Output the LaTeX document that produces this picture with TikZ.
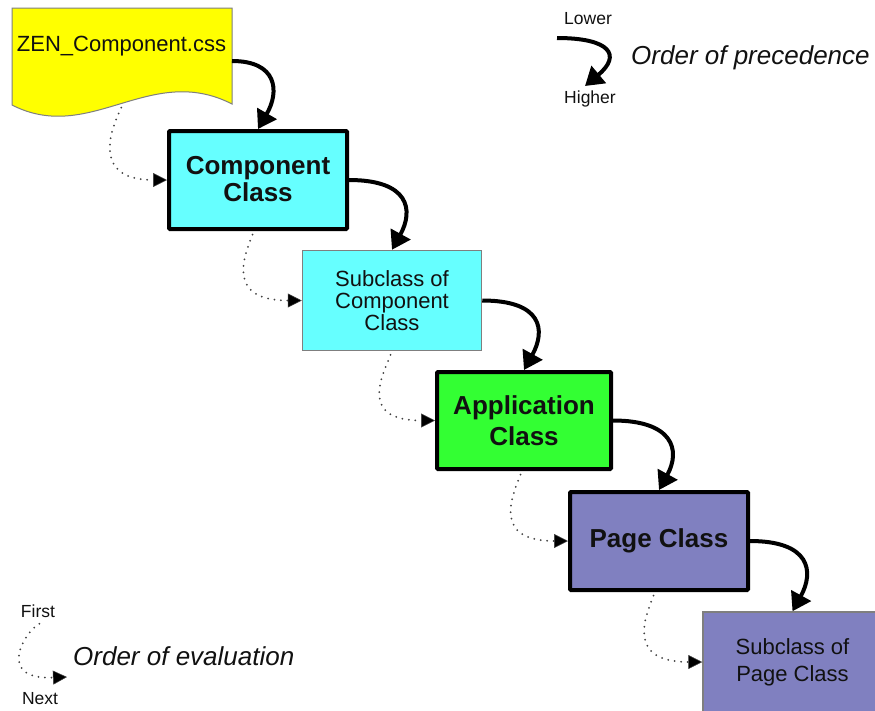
\documentclass[tikz,border=0pt]{standalone}
\usepackage{fontspec}
\setmainfont{Liberation Sans}
\usetikzlibrary{arrows.meta}
\definecolor{zenyellow}{HTML}{FFFF00}
\definecolor{compcyan}{HTML}{66FFFF}
\definecolor{appgreen}{HTML}{33FF33}
\definecolor{pagepurple}{HTML}{8080C0}
\definecolor{thinborder}{HTML}{7F7F7F}
\definecolor{inkcol}{HTML}{111111}
\begin{document}
\begin{tikzpicture}[x=1pt,y=-1pt,
  boldbox/.style={draw=black, line width=4pt, rounded corners=1pt, align=center,
    font=\fontsize{26}{27}\selectfont\bfseries, inner sep=0pt, text=inkcol},
  thinbox/.style={draw=thinborder, line width=1.5pt, align=center,
    font=\fontsize{22}{22}\selectfont, inner sep=0pt, text=inkcol},
  smalltext/.style={font=\fontsize{17.5}{18}\selectfont, inner sep=0pt, text=inkcol},
  legendtext/.style={anchor=west, font=\fontsize{26}{26}\selectfont\itshape, inner sep=0pt, text=inkcol},
  precarrow/.style={line width=4pt, draw=black, -{Triangle[length=18pt,width=22pt]}},
  evalarrow/.style={line width=2pt, draw=inkcol!80, dash pattern=on 0pt off 6.5pt, line cap=round,
    -{Triangle[length=14pt,width=14pt,fill=black,line width=0.5pt]}, shorten <=4pt}
]
\useasboundingbox (0,0) rectangle (875,710);
\fill[white] (0,0) rectangle (875,710);

% document shape
\path[draw=thinborder, line width=1pt, fill=zenyellow]
  (12,8) -- (232,8) -- (232,104) .. controls (150,62) and (90,145) .. (12,105) -- cycle;
\node[font=\fontsize{22}{22}\selectfont, inner sep=0pt, text=inkcol] (zen) at (121.5,46) {ZEN\_Component.css};
\coordinate (zenR) at (232,61);
\coordinate (zenB) at (123,104);

% boxes
\node[boldbox, fill=compcyan, minimum width=178pt, minimum height=98pt] (comp) at (258,180) {\raisebox{2pt}{Component}\\\raisebox{2pt}{Class}};
\node[thinbox, fill=compcyan, minimum width=179pt, minimum height=100pt] (sub1) at (392,300.5) {Subclass of\\Component\\Class};
\node[boldbox, fill=appgreen, minimum width=174pt, minimum height=97pt,
  font=\fontsize{26}{31}\selectfont\bfseries] (app) at (524,420.5) {Application\\Class};
\node[boldbox, fill=pagepurple, minimum width=178pt, minimum height=98pt] (page) at (659,541) {Page Class};
\node[thinbox, fill=pagepurple, minimum width=179pt, minimum height=100pt,
  font=\fontsize{22}{27}\selectfont] (sub2) at (792.5,662) {Subclass of\\Page Class};

% precedence arrows
\draw[precarrow] (zenR) .. controls +(45,0) and +(22,-38) .. (comp.north);
\draw[precarrow] (comp.east) .. controls +(60,0) and +(22,-40) .. (sub1.north);
\draw[precarrow] (sub1.east) .. controls +(60,0) and +(22,-40) .. (app.north);
\draw[precarrow] (app.east) .. controls +(60,0) and +(22,-40) .. (page.north);
\draw[precarrow] (page.east) .. controls +(60,0) and +(22,-40) .. (sub2.north);

% evaluation arrows
\draw[evalarrow] (zenB) .. controls +(-12,25) and +(-76,0) .. (comp.west);
\draw[evalarrow] ([xshift=-4pt]comp.south) .. controls +(-10,25) and +(-76,0) .. (sub1.west);
\draw[evalarrow] (sub1.south) .. controls +(-10,25) and +(-76,0) .. (app.west);
\draw[evalarrow] ([xshift=-2pt]app.south) .. controls +(-10,25) and +(-76,0) .. (page.west);
\draw[evalarrow] ([xshift=-4pt]page.south) .. controls +(-10,25) and +(-76,0) .. (sub2.west);

% legend: precedence
\node[smalltext] (lower) at (588,19) {Lower};
\node[smalltext] (higher) at (590,99) {Higher};
\coordinate (precS) at (557,38);
\coordinate (precE) at (585,86);
\draw[precarrow] (precS) .. controls +(53,0) and +(37,-31) .. (precE);
\node[legendtext] (precLabel) at (631,58) {Order of precedence};

% legend: evaluation
\node[smalltext] (first) at (38,611) {First};
\node[smalltext] (next) at (40,699) {Next};
\coordinate (evS) at (43,622);
\coordinate (evE) at (67,677);
\draw[evalarrow] (evS) .. controls +(-18,9) and +(-72,3) .. (evE);
\node[legendtext] (evalLabel) at (73,656) {Order of evaluation};
\end{tikzpicture}
\end{document}
